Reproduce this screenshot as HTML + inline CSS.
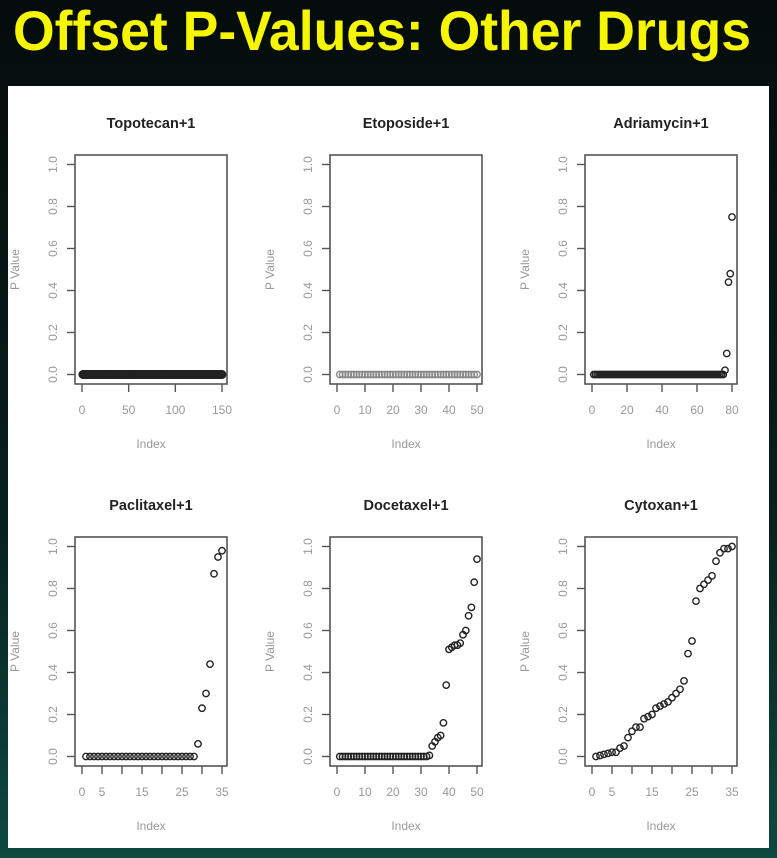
<!DOCTYPE html>
<html><head><meta charset="utf-8"><style>
html,body{margin:0;padding:0;background:#061210;}
svg{display:block}
text{font-family:"Liberation Sans",Arial,sans-serif}
</style></head><body>
<svg id="root" width="777" height="858" viewBox="0 0 777 858" xmlns="http://www.w3.org/2000/svg">
<defs>
<linearGradient id="bg" x1="0" y1="0" x2="0" y2="1">
<stop offset="0" stop-color="#050c0b"/><stop offset="0.6" stop-color="#07201c"/><stop offset="1" stop-color="#0d4a40"/>
</linearGradient>
</defs>
<rect x="0" y="0" width="777" height="858" fill="url(#bg)"/>
<text x="13" y="50" font-size="56" font-weight="bold" fill="#f6f600" textLength="738" lengthAdjust="spacingAndGlyphs">Offset P-Values: Other Drugs</text>
<rect x="8" y="86" width="761" height="762" fill="#ffffff"/>
<g id="charts"></g>
</svg>
<script>
const titles = ["Topotecan+1","Etoposide+1","Adriamycin+1","Paclitaxel+1","Docetaxel+1","Cytoxan+1"];
const xTicks0 = [0,50,100,150];
const xTicks1 = [0,10,20,30,40,50];
const xTicks2 = [0,20,40,60,80];
const xTicks3 = [0,5,10,15,20,25,30,35];
const xTickLabels3 = ["0","5","","15","","25","","35"];
const xTicks4 = [0,10,20,30,40,50];
const xTicks5 = [0,5,10,15,20,25,30,35];
const xTickLabels5 = ["0","5","","15","","25","","35"];
const yTicks = [0,0.2,0.4,0.6,0.8,1.0];
const yTickLabels = ["0.0","0.2","0.4","0.6","0.8","1.0"];
const vals0 = new Array(150).fill(0);
const vals1 = new Array(50).fill(0);
const vals2 = new Array(75).fill(0).concat([0.02,0.10,0.44,0.48,0.75]);
const vals3 = new Array(28).fill(0).concat([0.06,0.23,0.30,0.44,0.87,0.95,0.98]);
const vals4 = new Array(32).fill(0).concat([0.005,0.05,0.07,0.09,0.10,0.16,0.34,0.51,0.52,0.53,0.53,0.54,0.58,0.60,0.67,0.71,0.83,0.94]);
const vals5 = [0.00,0.005,0.01,0.015,0.02,0.02,0.04,0.05,0.09,0.12,0.14,0.14,0.18,0.19,0.20,0.23,0.24,0.25,0.26,0.28,0.30,0.32,0.36,0.49,0.55,0.74,0.80,0.82,0.84,0.86,0.93,0.97,0.99,0.99,1.00];

const NS="http://www.w3.org/2000/svg";
const root=document.getElementById('charts');
function mk(tag,attrs,parent){const e=document.createElementNS(NS,tag);for(const k in attrs)e.setAttribute(k,attrs[k]);parent.appendChild(e);return e;}
const panels=[
 {vals:vals0,ticks:xTicks0,labels:null,max:150,light:false,dense:true},
 {vals:vals1,ticks:xTicks1,labels:null,max:50,light:true},
 {vals:vals2,ticks:xTicks2,labels:null,max:80},
 {vals:vals3,ticks:xTicks3,labels:xTickLabels3,max:35},
 {vals:vals4,ticks:xTicks4,labels:null,max:50},
 {vals:vals5,ticks:xTicks5,labels:xTickLabels5,max:35}
];
const lefts=[75,330,585];
panels.forEach((p,i)=>{
 const L=lefts[i%3], T=(i<3)?155:537;
 const W=152,H=229;
 const g=mk('g',{},root);
 
 
 const xs=v=>L+7+v*(140/p.max);
 const ys=v=>T+219.5-v*210;
 const t=mk('text',{x:L+W/2,y:T-27,'text-anchor':'middle','font-size':14.5,'font-weight':'bold',fill:'#222'},g);
 t.textContent=titles[i];
 
 
 const b=mk('rect',{x:L,y:T,width:W,height:H,fill:'none',stroke:'#555','stroke-width':1.6},g);
 
 
 yTicks.forEach((v,k)=>{
  const y=ys(v);
  const tk=mk('line',{x1:L-8,x2:L,y1:y,y2:y,stroke:'#555','stroke-width':1.4},g);
  
  
  const tl=mk('text',{x:0,y:0,transform:`translate(${L-18},${y}) rotate(-90)`,'text-anchor':'middle','font-size':12,fill:'#999'},g);
  tl.textContent=yTickLabels[k];
  
  
 });
 const yl=mk('text',{x:0,y:0,transform:`translate(${L-56},${T+H/2}) rotate(-90)`,'text-anchor':'middle','font-size':12,fill:'#999'},g);
 yl.textContent='P Value';
 
 
 p.ticks.forEach((v,k)=>{
  const x=xs(v);
  const tk=mk('line',{x1:x,x2:x,y1:T+H,y2:T+H+8,stroke:'#555','stroke-width':1.4},g);
  
  
  const lab=p.labels?p.labels[k]:String(v);
  if(lab){
   const tl=mk('text',{x:x,y:T+H+30,'text-anchor':'middle','font-size':12,fill:'#999'},g);
   tl.textContent=lab;
   
   
  }
 });
 const xl=mk('text',{x:L+W/2,y:T+H+64,'text-anchor':'middle','font-size':12,fill:'#999'},g);
 xl.textContent='Index';
 
 
 p.vals.forEach((v,k)=>{
  const c=mk('circle',{cx:xs(k+1),cy:ys(v),r:p.dense?3:3.2,fill:'none',stroke:p.light?'#888':'#222','stroke-width':p.dense?3:1.4},g);
  
  
 });
});
</script>
</body></html>
